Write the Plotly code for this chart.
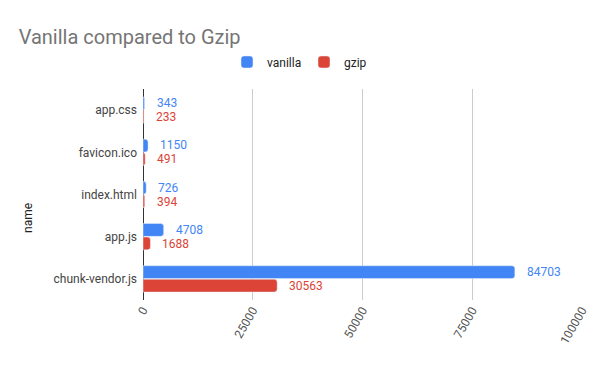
import plotly.graph_objects as go

names = ["app.css", "favicon.ico", "index.html", "app.js", "chunk-vendor.js"]
vanilla = [343, 1150, 726, 4708, 84703]
gzip = [233, 491, 394, 1688, 30563]
x_ticks = [0, 25000, 50000, 75000, 100000]

BLUE = "#4285F4"
RED = "#DB4437"
FONT = "Roboto, Arial, sans-serif"

fig = go.Figure()
fig.add_trace(go.Bar(y=names, x=vanilla, name="vanilla", orientation="h",
                     marker=dict(color=BLUE, cornerradius=3)))
fig.add_trace(go.Bar(y=names, x=gzip, name="gzip", orientation="h",
                     marker=dict(color=RED, cornerradius=3)))

anns = []
for n, v in zip(names, vanilla):
    anns.append(dict(x=v, y=n, text=str(v), xanchor="left", xshift=10, yshift=7,
                     showarrow=False, font=dict(color=BLUE, size=12, family=FONT)))
for n, v in zip(names, gzip):
    anns.append(dict(x=v, y=n, text=str(v), xanchor="left", xshift=10, yshift=-7,
                     showarrow=False, font=dict(color=RED, size=12, family=FONT)))
anns.append(dict(xref="paper", yref="paper", x=-0.262, y=0.389, text="name", textangle=-90,
                 xanchor="center", yanchor="middle", showarrow=False,
                 font=dict(size=12, color="#222", family=FONT)))

fig.update_layout(
    width=592, height=363,
    paper_bgcolor="white", plot_bgcolor="white",
    font=dict(family=FONT, size=12, color="#444"),
    title=dict(text="Vanilla compared to Gzip", x=0.018, xanchor="left", y=0.92, yanchor="middle",
               pad=dict(l=0, t=0, b=0, r=0),
               font=dict(size=20, color="#757575", family=FONT)),
    legend=dict(orientation="h", xref="container", x=0.5, xanchor="center", y=1.128, yanchor="middle",
                entrywidth=32, entrywidthmode="pixels",
                font=dict(size=12, color="#222"), traceorder="normal"),
    margin=dict(l=135, r=18, t=81, b=71, autoexpand=False),
    barmode="group", bargap=0.36, bargroupgap=0.05,
    annotations=anns,
    showlegend=True,
)
fig.update_yaxes(autorange="reversed", automargin=False,
                 tickfont=dict(size=12, color="#444"), showgrid=False, ticks="", ticklen=0,
                 ticklabelstandoff=5, showline=False)
fig.update_xaxes(range=[0, 100000], automargin=False, tickvals=x_ticks, ticktext=[str(t) for t in x_ticks],
                 tickangle=-60, tickfont=dict(size=12, color="#555"),
                 showgrid=True, gridcolor="#cccccc", gridwidth=1,
                 zeroline=True, zerolinecolor="#333333", zerolinewidth=1, showline=False)

fig.write_html("out.html")
